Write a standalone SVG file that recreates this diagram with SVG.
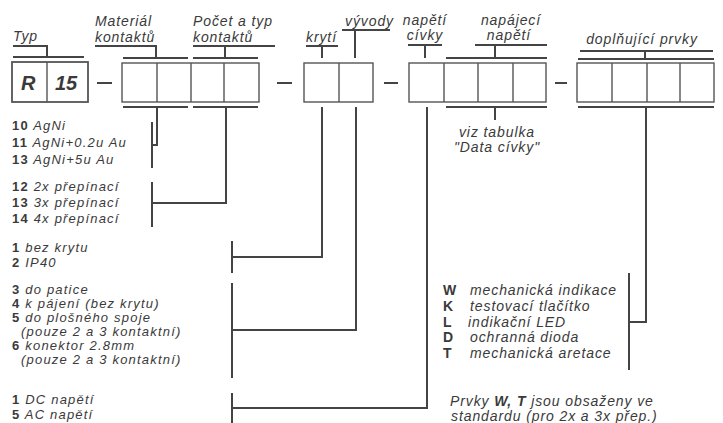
<svg xmlns="http://www.w3.org/2000/svg" width="723" height="423" viewBox="0 0 723 423">
<style>
text{font-family:"Liberation Sans",Arial,sans-serif;font-size:14px;fill:#3a3a3a;letter-spacing:0.9px}
.l text{font-size:13px;letter-spacing:1.2px}
.i{font-style:italic}
.b{font-weight:bold;font-style:normal}
.big{font-size:20px;font-weight:bold;font-style:italic;letter-spacing:0}
.box{fill:none;stroke:#555;stroke-width:1.4}
.ln{fill:none;stroke:#444;stroke-width:2}
</style>
<rect width="723" height="423" fill="#fff"/>
<g id="typ">
<rect class="box" x="12" y="62" width="76" height="40" style="stroke-width:1.8"/>
<line class="box" x1="47" y1="62" x2="47" y2="102"/>
<text class="big" x="21" y="90">R</text>
<text class="big" x="55" y="90">15</text>
<text class="i" x="13" y="41">Typ</text>
</g>
<g id="dashes">
<line class="ln" x1="97" y1="83" x2="112" y2="83"/>
<line class="ln" x1="277" y1="83" x2="292" y2="83"/>
<line class="ln" x1="384" y1="83" x2="398" y2="83"/>
<line class="ln" x1="555" y1="83" x2="567" y2="83"/>
</g>
<g id="kontakty">
<rect class="box" x="122" y="63" width="137" height="39"/>
<path class="box" d="M157,63V102M191,63V102M224,63V102"/>
<text class="i" x="95" y="26">Materiál</text>
<text class="i" x="95" y="42">kontaktů</text>
<text class="i" x="193" y="26">Počet a typ</text>
<text class="i" x="193" y="42">kontaktů</text>
</g>
<g id="kryti">
<rect class="box" x="304" y="63" width="69" height="39"/>
<path class="box" d="M339,63V102"/>
<text class="i" x="306" y="42">krytí</text>
<text class="i" x="345" y="26">vývody</text>
</g>
<g id="civka">
<rect class="box" x="409" y="63" width="137" height="39"/>
<path class="box" d="M444,63V102M478,63V102M513,63V102"/>
<text class="i" x="425" y="25" text-anchor="middle">napětí</text>
<text class="i" x="425" y="40" text-anchor="middle">cívky</text>
<text class="i" x="511" y="25" text-anchor="middle">napájecí</text>
<text class="i" x="509" y="40" text-anchor="middle">napětí</text>
<text class="i" x="497" y="137" text-anchor="middle">viz tabulka</text>
<text class="i" x="497" y="152" text-anchor="middle">"Data cívky"</text>
</g>
<g id="prvky">
<rect class="box" x="577" y="63" width="137" height="39"/>
<path class="box" d="M612,63V102M647,63V102M680,63V102"/>
<text class="i" x="642" y="44" text-anchor="middle">doplňující prvky</text>
</g>
<g id="list-material" class="l">
<text x="12" y="130"><tspan class="b">10</tspan><tspan class="i"> AgNi</tspan></text>
<text x="12" y="147"><tspan class="b">11</tspan><tspan class="i"> AgNi+0.2u Au</tspan></text>
<text x="12" y="164"><tspan class="b">13</tspan><tspan class="i"> AgNi+5u Au</tspan></text>
</g>
<g id="list-pocet" class="l">
<text x="12" y="191"><tspan class="b">12</tspan><tspan class="i"> 2x přepínací</tspan></text>
<text x="12" y="207"><tspan class="b">13</tspan><tspan class="i"> 3x přepínací</tspan></text>
<text x="12" y="223"><tspan class="b">14</tspan><tspan class="i"> 4x přepínací</tspan></text>
</g>
<g id="list-kryti" class="l">
<text x="12" y="252"><tspan class="b">1</tspan><tspan class="i"> bez krytu</tspan></text>
<text x="12" y="267"><tspan class="b">2</tspan><tspan class="i"> IP40</tspan></text>
</g>
<g id="list-vyvody" class="l">
<text x="12" y="294"><tspan class="b">3</tspan><tspan class="i"> do patice</tspan></text>
<text x="12" y="308"><tspan class="b">4</tspan><tspan class="i"> k pájení (bez krytu)</tspan></text>
<text x="12" y="322"><tspan class="b">5</tspan><tspan class="i"> do plošného spoje</tspan></text>
<text class="i" x="21" y="336">(pouze 2 a 3 kontaktní)</text>
<text x="12" y="350"><tspan class="b">6</tspan><tspan class="i"> konektor 2.8mm</tspan></text>
<text class="i" x="21" y="364">(pouze 2 a 3 kontaktní)</text>
</g>
<g id="list-napeti" class="l">
<text x="12" y="404"><tspan class="b">1</tspan><tspan class="i"> DC napětí</tspan></text>
<text x="12" y="419"><tspan class="b">5</tspan><tspan class="i"> AC napětí</tspan></text>
</g>
<g id="list-prvky">
<text class="b" x="443" y="295">W</text><text class="i" x="470" y="295">mechanická indikace</text>
<text class="b" x="443" y="311">K</text><text class="i" x="470" y="311">testovací tlačítko</text>
<text class="b" x="443" y="327">L</text><text class="i" x="468" y="327">indikační LED</text>
<text class="b" x="443" y="342">D</text><text class="i" x="470" y="342">ochranná dioda</text>
<text class="b" x="443" y="358">T</text><text class="i" x="470" y="358">mechanická aretace</text>
</g>
<g id="poznamka">
<text class="i" x="450" y="406">Prvky <tspan style="font-weight:bold">W, T</tspan> jsou obsaženy ve</text>
<text class="i" x="451" y="421">standardu (pro 2x a 3x přep.)</text>
</g>
<g id="connectors" class="ln">
<path d="M13,46H47V57M13,57H84"/>
<path d="M95,46H156V58M123,58H188"/>
<path d="M193,46H275M225,46V58M193,58H258"/>
<path d="M306,46H338M322,46V58"/>
<path d="M342,30H390M355,30V58"/>
<path d="M408,45H442M425,45V58"/>
<path d="M475,45H547M495,45V58M446,58H547"/>
<path d="M580,51H713M645,51V59M578,59H714"/>
<path d="M123,107H188M157,107V145H152M152,122V168"/>
<path d="M193,107H258M226,107V203H152M152,182V227"/>
<path d="M322,107V257H232M232,241V273"/>
<path d="M356,107V330H232M232,283V378"/>
<path d="M427,107V408H232M232,393V423"/>
<path d="M446,107H547M495,107V120"/>
<path d="M578,107H714M646,107V322H629M629,273V370"/>
</g>
</svg>
